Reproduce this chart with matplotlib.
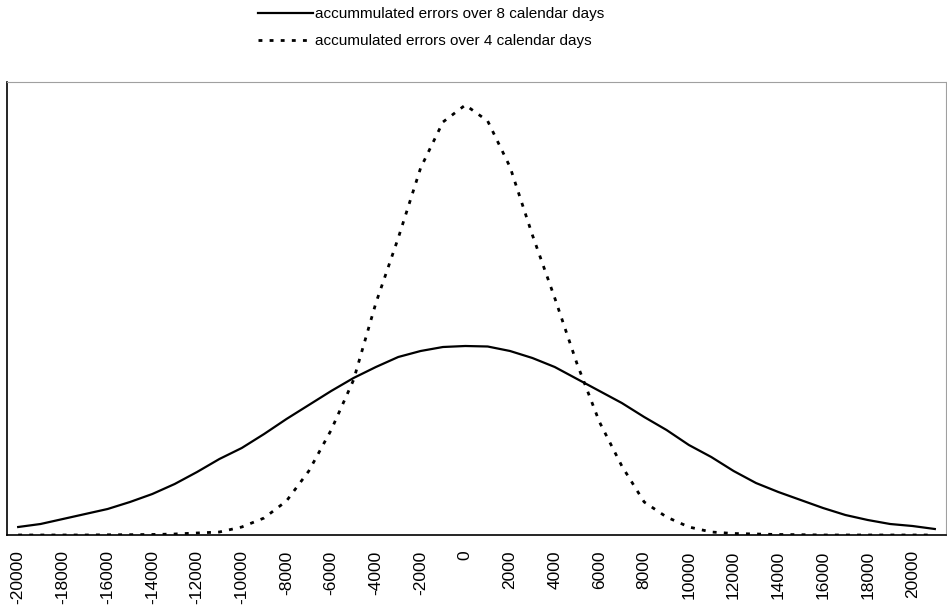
import matplotlib
matplotlib.use("Agg")
import matplotlib.pyplot as plt
import numpy as np

plt.rcParams['font.family'] = ['Liberation Sans', 'DejaVu Sans']

# error values (categories), every 1000
errors = list(range(-20000, 21001, 1000))

# relative frequency (arbitrary units)
days8 = [8, 11, 16, 21, 26, 33, 41, 51, 63, 76, 87, 101, 116, 130, 144, 157, 168,
         178, 184, 188, 189, 188.5, 184, 177, 168, 156, 144, 132, 118, 105, 90, 78,
         64, 52, 43, 35, 27, 20, 15, 11, 9, 6]
days4 = [0, 0, 0, 0, 0.2, 0.3, 0.5, 1, 2, 3, 8, 17, 34, 64, 105, 155, 232, 297,
         367, 413, 430, 414, 368, 300, 237, 171, 113, 69, 33, 18, 8, 3, 1.5, 1,
         0.5, 0.3, 0, 0, 0, 0, 0, 0]

tick_values = list(range(-20000, 20001, 2000))
tick_labels = [str(v) for v in tick_values]

label8 = "accummulated errors over 8 calendar days"
label4 = "accumulated errors over 4 calendar days"

fig = plt.figure(figsize=(9.47, 6.07), dpi=100)
ax = fig.add_axes([7/947, 1-535/607, 939/947, 453/607])

ax.plot(errors, days8, color='black', lw=1.6, label=label8, solid_joinstyle='round')
ax.plot(errors, days4, color='black', lw=2.0, linestyle=(0, (1.4, 2.6)), label=label4)

ax.set_xlim(-20500, 21500)
ax.set_ylim(0, 453)
ax.set_xticks(tick_values)
ax.set_xticklabels(tick_labels, rotation=90, fontsize=12.5)
ax.tick_params(axis='x', length=0, pad=11)
ax.set_yticks([])

for s in ['top', 'right']:
    ax.spines[s].set_color('#a0a0a0')
    ax.spines[s].set_linewidth(0.8)
for s in ['left', 'bottom']:
    ax.spines[s].set_color('black')
    ax.spines[s].set_linewidth(1.2)

fig.legend(loc='upper left', bbox_to_anchor=(258/947, 1-7/607), frameon=False,
           fontsize=11, handlelength=3.6, handletextpad=0.15, labelspacing=0.85,
           borderpad=0, borderaxespad=0)

fig.savefig('out.png', dpi=100)
